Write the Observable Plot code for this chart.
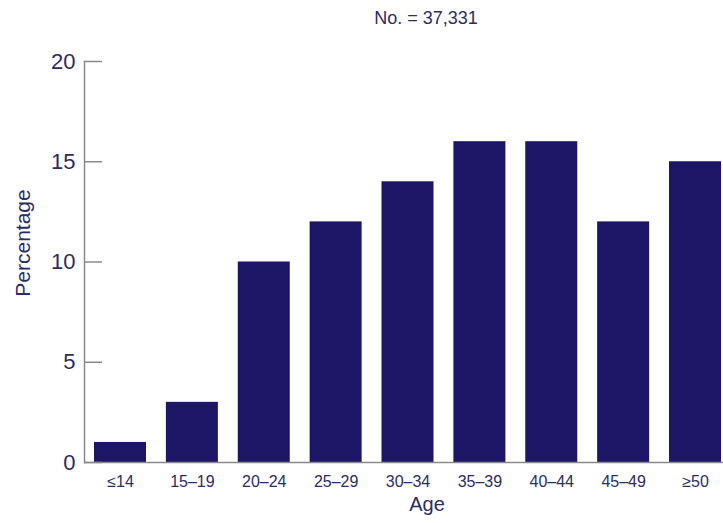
<!DOCTYPE html>
<html>
<head>
<meta charset="utf-8">
<script src="https://cdn.jsdelivr.net/npm/d3@7"></script>
<script src="https://cdn.jsdelivr.net/npm/@observablehq/plot@0.6"></script>
<style>
  html, body { margin: 0; padding: 0; background: #fff; }
  #title { width: 723px; height: 36px; line-height: 36px; box-sizing: border-box; padding-left: 129px;
    text-align: center; font-family: "Liberation Sans", Arial, sans-serif; font-size: 18px; color: #2d2c63; }
</style>
</head>
<body>
<div id="title">No. = 37,331</div>
<div id="chart"></div>
<script>
const ages = ["≤14", "15–19", "20–24", "25–29", "30–34", "35–39", "40–44", "45–49", "≥50"];
const percentages = [1, 3, 10, 12, 14, 16, 16, 12, 15];
const yTicks = [0, 5, 10, 15, 20];

const data = ages.map((a, i) => ({age: a, pct: percentages[i]}));
const textColor = "#2d2c63";
const W = 723, ML = 84;

const chart = Plot.plot({
  width: W,
  height: 487,
  marginTop: 25,
  marginBottom: 61,
  marginLeft: ML,
  marginRight: 0,
  style: {fontFamily: "Liberation Sans, Arial, sans-serif", color: textColor, background: "#fff"},
  x: {domain: ages, paddingInner: 0.2765, paddingOuter: 0.0833, align: 0.835, round: false, label: null},
  y: {domain: [0, 20], label: null},
  marks: [
    Plot.barY(data, {x: "age", y: "pct", fill: "#1d1565"}),
    Plot.ruleY([0], {stroke: "#8a8a8a", strokeWidth: 1.5}),
    Plot.frame({anchor: "left", stroke: "#8a8a8a", strokeWidth: 1.5}),
    Plot.tickY(yTicks, {y: d => d, insetRight: W - ML - 18, stroke: "#8a8a8a", strokeWidth: 1.5}),
    Plot.axisY({ticks: yTicks, tickSize: 0, tickPadding: 9, fontSize: 22, fill: textColor, label: null}),
    Plot.axisX({tickSize: 0, tickPadding: 13, fontSize: 16, fill: textColor, label: null}),
    Plot.text(["Age"], {frameAnchor: "bottom", dy: 48, dx: 23, fontSize: 20, fill: textColor}),
    Plot.text(["Percentage"], {frameAnchor: "left", textAnchor: "middle", rotate: -90, dx: -61, dy: -19, fontSize: 21, fill: textColor})
  ]
});
document.getElementById("chart").appendChild(chart);
</script>
</body>
</html>
